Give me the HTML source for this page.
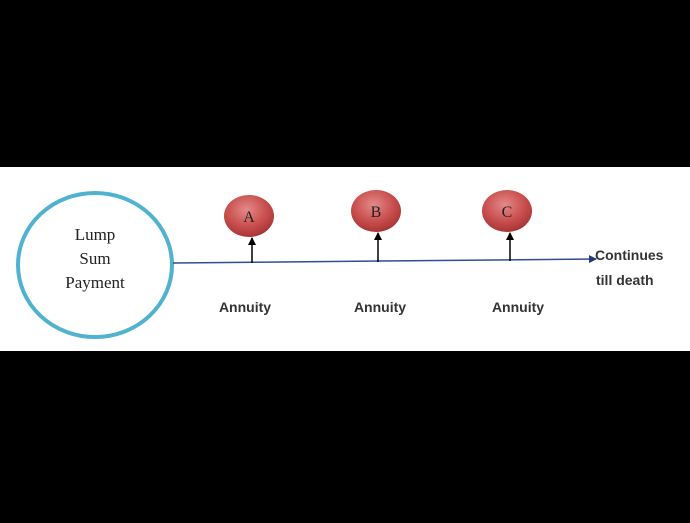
<!DOCTYPE html>
<html><head><style>
body{margin:0;background:#000;width:690px;height:518px;overflow:hidden}
</style></head><body>
<svg width="690" height="518" xmlns="http://www.w3.org/2000/svg">
<defs>
<radialGradient id="g" cx="45%" cy="35%" r="65%">
<stop offset="0" stop-color="#e48a8a"/><stop offset="0.6" stop-color="#c9504f"/><stop offset="1" stop-color="#a83535"/>
</radialGradient>
<marker id="ah" markerWidth="8" markerHeight="8" refX="7" refY="4" orient="auto" markerUnits="userSpaceOnUse"><path d="M0,0 L8,4 L0,8z" fill="#1f3a7a"/></marker>
<marker id="ak" markerWidth="8" markerHeight="8" refX="7" refY="4" orient="auto" markerUnits="userSpaceOnUse"><path d="M0,0 L8,4 L0,8z" fill="#000"/></marker>
</defs>
<rect x="0" y="167" width="690" height="184" fill="#fff"/>
<ellipse cx="95" cy="265" rx="77" ry="72" fill="#fff" stroke="#4fb3cf" stroke-width="4"/>
<g font-family="Liberation Serif, serif" font-size="17" fill="#222" text-anchor="middle">
<text x="95" y="240">Lump</text><text x="95" y="264">Sum</text><text x="95" y="288">Payment</text>
</g>
<line x1="173" y1="263" x2="596" y2="259" stroke="#2f4f8f" stroke-width="1.5" marker-end="url(#ah)"/>
<g stroke="#000" stroke-width="1.5" marker-end="url(#ak)">
<line x1="252" y1="263" x2="252" y2="238"/>
<line x1="378" y1="262" x2="378" y2="233"/>
<line x1="510" y1="261" x2="510" y2="233"/>
</g>
<ellipse cx="249" cy="216" rx="25" ry="21" fill="url(#g)"/>
<ellipse cx="376" cy="211" rx="25" ry="21" fill="url(#g)"/>
<ellipse cx="507" cy="211" rx="25" ry="21" fill="url(#g)"/>
<g font-family="Liberation Serif, serif" font-size="16" fill="#222" text-anchor="middle">
<text x="249" y="222">A</text><text x="376" y="217">B</text><text x="507" y="217">C</text>
</g>
<g font-family="Liberation Sans, sans-serif" font-size="14" font-weight="bold" fill="#333">
<text x="245" y="312" text-anchor="middle">Annuity</text>
<text x="380" y="312" text-anchor="middle">Annuity</text>
<text x="518" y="312" text-anchor="middle">Annuity</text>
<text x="595" y="260">Continues</text>
<text x="596" y="285">till death</text>
</g>
</svg>
</body></html>
